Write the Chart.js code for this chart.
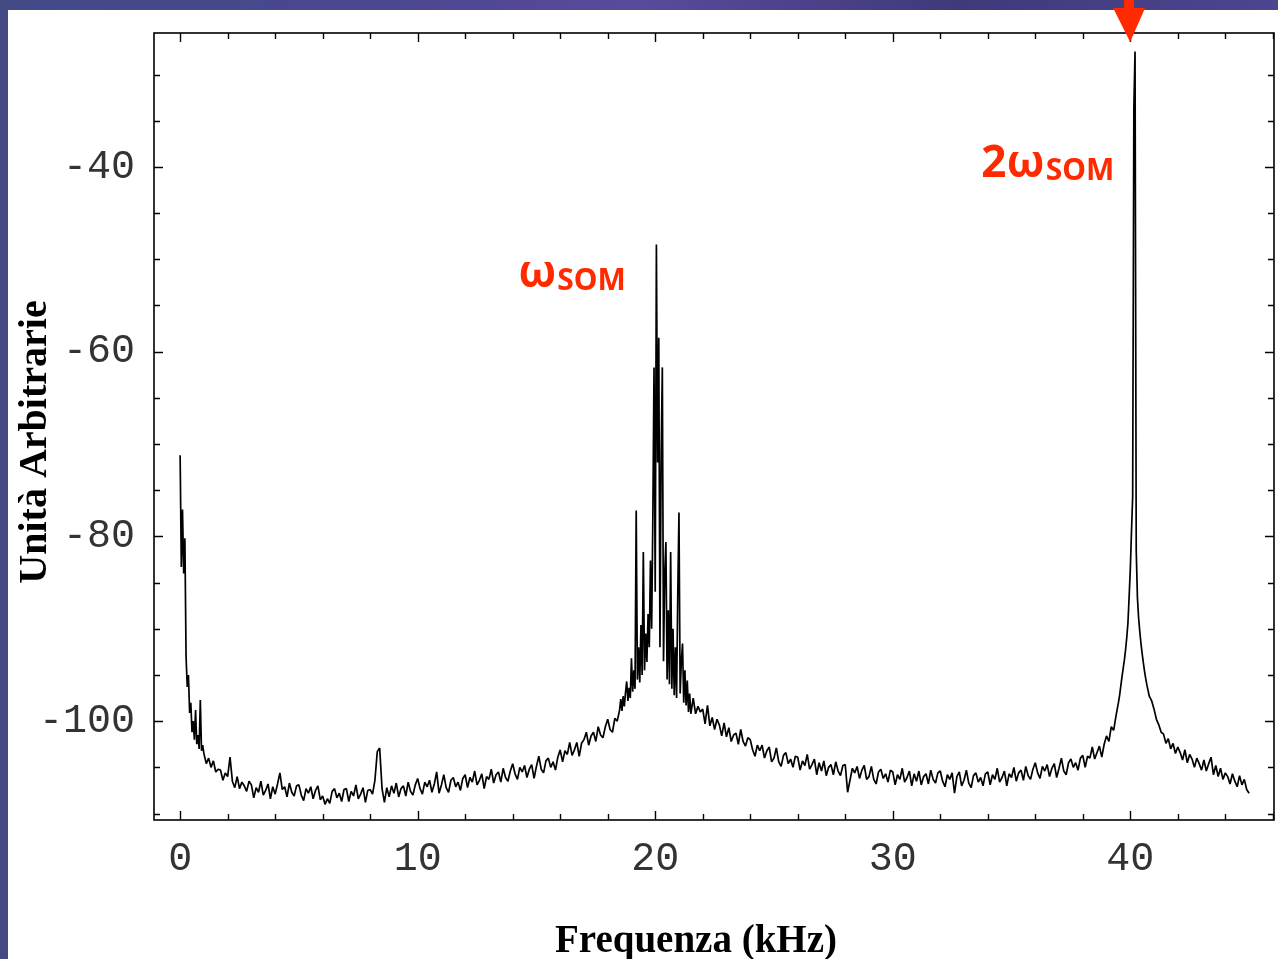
<!DOCTYPE html>
<html lang="it">
<head>
<meta charset="UTF-8">
<title>Spettro - Frequenza (kHz)</title>
<script src="https://cdn.jsdelivr.net/npm/chart.js"></script>
<style>
  html, body { margin: 0; padding: 0; background: #4a4384; overflow: hidden; }
  #wrap { position: relative; width: 1278px; height: 959px; }
</style>
</head>
<body>
<div id="wrap"><canvas id="spectrumChart" width="1278" height="959"></canvas></div>
<script>
// Spectrum levels (arbitrary units, dB-like), one array per frequency band.
// Each band is sampled on a regular grid: see bandGrid below.

// 0.00 - 0.95 kHz, step 0.05
const dcBand = [
  -71.2, -83.3, -77.1, -84.0, -80.2, -93.0, -96.3, -95.0, -99.1, -98.0,
  -101.2, -100.0, -102.0, -98.8, -102.5, -101.5, -103.0, -97.7, -103.2, -102.6
];

// 1.0 - 18.4 kHz, step 0.1
const lowBand = [
  -103.5, -104.6, -104.0, -105.0, -104.3, -105.5, -105.2, -105.3, -106.4, -105.6,
  -106.0, -103.9, -106.5, -107.2, -106.0, -107.3, -106.6, -107.0, -107.6, -106.5,
  -106.9, -108.3, -107.2, -107.7, -106.5, -108.0, -107.5, -106.8, -108.4, -107.1,
  -107.9, -106.8, -105.6, -107.4, -107.1, -108.2, -106.7, -107.7, -108.1, -107.0,
  -106.9, -108.0, -108.6, -107.3, -107.8, -107.1, -108.4, -107.5, -107.0, -108.5,
  -108.1, -109.0, -108.4, -108.9, -107.6, -107.3, -108.3, -107.8, -108.7, -107.4,
  -107.3, -108.7, -107.6, -108.1, -106.9, -108.4, -107.9, -107.2, -108.8, -107.5,
  -107.4, -107.9, -106.4, -103.3, -102.9, -107.3, -108.8, -107.2, -108.2, -107.0,
  -107.8, -106.7, -108.2, -107.3, -107.0, -108.1, -106.6, -107.6, -108.0, -106.9,
  -106.2, -107.3, -107.9, -106.6, -107.1, -106.4, -107.7, -106.8, -105.5, -107.8,
  -106.9, -105.8, -107.2, -107.7, -106.4, -106.1, -107.1, -106.6, -107.5, -106.2,
  -105.8, -107.2, -106.1, -106.6, -105.4, -106.9, -106.4, -105.7, -107.3, -106.0,
  -106.3, -105.2, -106.7, -105.8, -105.5, -106.6, -105.1, -106.1, -106.5, -105.4,
  -104.6, -105.7, -106.3, -105.0, -105.5, -104.8, -106.1, -105.2, -104.7, -106.2,
  -104.9, -103.8, -105.2, -105.6, -104.3, -104.0, -105.0, -104.4, -105.3, -103.9,
  -103.1, -104.4, -103.2, -103.6, -102.3, -103.7, -103.1, -102.3, -103.8, -102.4,
  -102.0, -101.2, -102.6, -101.6, -101.2, -102.2, -100.6, -101.5, -101.8, -100.6,
  -99.8, -100.9, -101.2, -99.7, -100.0
];

// 18.50 - 21.50 kHz, step 0.05 (fundamental cluster)
const somBand = [
  -98.8, -97.6, -98.9, -97.3, -98.4, -96.9, -95.7, -97.8, -96.4, -97.5,
  -93.2, -96.8, -94.5, -96.5, -77.2, -95.5, -92.0, -95.8, -89.6, -95.0,
  -81.7, -94.5, -90.5, -93.6, -88.4, -92.0, -82.6, -90.0, -78.0, -61.7,
  -86.0, -48.4, -72.0, -58.5, -92.0, -71.2, -61.7, -93.5, -84.0, -80.6,
  -95.5, -88.0, -96.0, -81.7, -96.5, -90.0, -97.2, -92.0, -97.5, -86.2,
  -77.4, -97.0, -93.5, -91.6, -98.0, -94.5, -98.3, -95.6, -99.0, -97.0,
  -99.2
];

// 21.6 - 39.4 kHz, step 0.1
const midBand = [
  -97.5, -99.2, -98.4, -99.0,
  -98.7, -100.3, -98.3, -100.5, -99.6, -100.9, -99.8, -100.4, -101.6, -100.2,
  -101.7, -100.7, -102.2, -101.5, -101.3, -102.5, -100.9, -102.2, -102.7, -101.8,
  -102.0, -103.1, -103.8, -102.6, -103.2, -102.6, -104.0, -103.2, -102.8, -104.4,
  -104.0, -102.9, -104.4, -104.9, -103.7, -103.4, -104.6, -104.1, -105.0, -103.8,
  -103.9, -105.3, -104.3, -104.8, -103.6, -105.2, -104.7, -104.1, -105.8, -104.5,
  -105.4, -104.3, -105.9, -105.0, -104.7, -105.8, -104.4, -105.4, -105.9, -104.8,
  -104.7, -107.7, -106.4, -105.1, -105.6, -104.9, -106.2, -105.3, -104.8, -106.3,
  -106.0, -104.9, -106.3, -106.8, -105.5, -105.2, -106.2, -105.7, -106.6, -105.3,
  -105.5, -106.9, -105.8, -106.3, -105.1, -106.6, -106.1, -105.4, -107.0, -105.7,
  -106.5, -105.4, -106.9, -106.0, -105.7, -106.8, -105.3, -106.3, -106.7, -105.6,
  -105.4, -106.5, -107.1, -105.8, -106.3, -105.6, -107.8, -106.0, -105.5, -107.0,
  -106.4, -105.3, -106.7, -107.2, -105.9, -105.6, -106.6, -106.1, -107.0, -105.7,
  -105.5, -106.9, -105.8, -106.3, -105.1, -106.6, -106.1, -105.4, -107.0, -105.7,
  -106.1, -105.0, -106.5, -105.6, -105.3, -106.4, -104.9, -105.9, -106.3, -105.2,
  -104.5, -105.6, -106.2, -104.9, -105.4, -104.7, -106.0, -105.1, -104.6, -106.1,
  -105.1, -104.0, -105.4, -105.8, -104.5, -104.1, -105.0, -104.5, -105.3, -104.0,
  -103.7, -105.0, -103.8, -104.0, -102.8, -104.1, -103.4, -102.7, -103.9, -102.5,
  -101.6, -102.2, -100.6, -101.0, -99.4
];

// 39.50 - 40.80 kHz, step 0.05 (second harmonic)
const harmonicBand = [
  -98.0, -97.2, -96.2, -95.2, -94.3, -93.4, -92.3, -91.0, -89.4, -86.6,
  -83.6, -79.5, -75.7, -33.6, -27.5, -81.5, -86.6, -88.8, -90.3, -91.6,
  -92.7, -93.7, -94.6, -95.4, -96.1, -96.7, -97.3
];

// 40.9 - 45.0 kHz, step 0.1
const tailBand = [
  -97.8, -98.7, -99.8, -100.4, -101.2, -101.4, -102.4, -101.9, -103.0, -102.4,
  -103.5, -102.8, -103.4, -104.2, -103.1, -104.5, -103.6, -104.1, -105.0, -104.0,
  -104.6, -105.3, -104.2, -105.4, -104.6, -103.9, -105.8, -104.8, -106.0, -105.1,
  -106.3, -105.6, -106.0, -106.8, -105.7, -106.5, -107.1, -105.9, -106.9, -106.3,
  -107.4, -107.8
];

// start frequency and step (kHz) of each band
const bandGrid = [
  [0.0, 0.05, dcBand],
  [1.0, 0.1, lowBand],
  [18.5, 0.05, somBand],
  [21.6, 0.1, midBand],
  [39.5, 0.05, harmonicBand],
  [40.9, 0.1, tailBand]
];

const freqTicks = [0, 2, 4, 6, 8, 10, 12, 14, 16, 18, 20, 22, 24, 26, 28, 30, 32, 34, 36, 38, 40, 42, 44, 46];
const freqLabels = [0, 10, 20, 30, 40];
const levelTicks = [-110, -105, -100, -95, -90, -85, -80, -75, -70, -65, -60, -55, -50, -45, -40, -35, -30];
const levelLabels = [-100, -80, -60, -40];

const points = [];
bandGrid.forEach(([start, step, values]) => {
  values.forEach((v, i) => points.push({ x: +(start + i * step).toFixed(3), y: v }));
});

const RED = '#ff2a00';

const framePlugin = {
  id: 'frame',
  beforeDraw(chart) {
    const c = chart.ctx;
    c.save();
    const g = c.createLinearGradient(0, 0, chart.width, 0);
    g.addColorStop(0, '#434a86');
    g.addColorStop(0.3, '#4b4790');
    g.addColorStop(0.5, '#5a4a9c');
    g.addColorStop(0.75, '#3f3a7a');
    g.addColorStop(1, '#4d4590');
    c.fillStyle = g;
    c.fillRect(0, 0, chart.width, chart.height);
    c.fillStyle = '#ffffff';
    c.fillRect(8, 10, chart.width - 8, chart.height - 10);
    c.restore();
  },
  afterDraw(chart) {
    const c = chart.ctx;
    const a = chart.chartArea;
    const x = chart.scales.x;
    const y = chart.scales.y;
    c.save();

    // frame
    c.strokeStyle = '#000';
    c.lineWidth = 1.6;
    c.strokeRect(a.left, a.top, a.right - a.left, a.bottom - a.top);

    // inward ticks on all four sides
    c.lineWidth = 1.4;
    c.beginPath();
    x.ticks.forEach(t => {
      const px = Math.round(x.getPixelForValue(t.value)) + 0.5;
      const len = freqLabels.includes(t.value) ? 9 : 6;
      c.moveTo(px, a.bottom); c.lineTo(px, a.bottom - len);
      c.moveTo(px, a.top); c.lineTo(px, a.top + len);
    });
    y.ticks.forEach(t => {
      const py = Math.round(y.getPixelForValue(t.value)) + 0.5;
      const len = levelLabels.includes(t.value) ? 9 : 6;
      c.moveTo(a.left, py); c.lineTo(a.left + len, py);
      c.moveTo(a.right, py); c.lineTo(a.right - len, py);
    });
    c.stroke();

    // axis titles
    c.fillStyle = '#000';
    c.textAlign = 'center';
    c.textBaseline = 'alphabetic';
    c.font = 'bold 39px "Liberation Serif", serif';
    c.fillText('Frequenza (kHz)', 696, 952);
    c.save();
    c.translate(46, 442);
    c.rotate(-Math.PI / 2);
    c.font = 'bold 40px "Liberation Serif", serif';
    c.fillText('Unità Arbitrarie', 0, 0);
    c.restore();

    // peak annotations
    const note = (big, fx, fy) => {
      const px = x.getPixelForValue(fx);
      const py = y.getPixelForValue(fy);
      c.fillStyle = RED;
      c.textAlign = 'left';
      c.font = 'bold 44px "Noto Sans", sans-serif';
      c.fillText(big, px, py);
      const w = c.measureText(big).width;
      c.font = 'bold 30px "Noto Sans", sans-serif';
      c.fillText('SOM', px + w + 1, py + 3);
    };
    note('ω', 14.23, -53.0);
    note('2ω', 33.73, -41.1);

    // arrow pointing at the 2ω line
    const ax = x.getPixelForValue(39.95);
    const tip = a.top + 9;
    c.fillStyle = RED;
    c.fillRect(ax - 5, 0, 10, 12);
    c.beginPath();
    c.moveTo(ax - 16, 8);
    c.lineTo(ax + 16, 8);
    c.lineTo(ax + 1, tip);
    c.closePath();
    c.fill();

    c.restore();
  }
};

const tickFont = { family: '"Liberation Mono", "DejaVu Sans Mono", monospace', size: 40 };

new Chart(document.getElementById('spectrumChart').getContext('2d'), {
  type: 'line',
  data: {
    datasets: [{
      data: points,
      borderColor: '#000',
      borderWidth: 1.7,
      borderJoinStyle: 'bevel',
      pointRadius: 0,
      tension: 0,
      fill: false
    }]
  },
  options: {
    responsive: false,
    animation: false,
    devicePixelRatio: 1,
    layout: { padding: { top: 33, right: 4, left: 0, bottom: 0 } },
    plugins: { legend: { display: false }, tooltip: { enabled: false } },
    scales: {
      x: {
        type: 'linear',
        min: -1.1,
        max: 46.05,
        grid: { display: false },
        border: { display: false },
        afterBuildTicks: s => { s.ticks = freqTicks.map(v => ({ value: v })); },
        afterFit: s => { s.height = 139; s.paddingLeft = 0; s.paddingRight = 0; },
        ticks: {
          autoSkip: false,
          maxRotation: 0,
          padding: 7,
          color: '#333',
          font: tickFont,
          callback: v => freqLabels.includes(v) ? String(v) : ''
        }
      },
      y: {
        type: 'linear',
        min: -110.7,
        max: -25.5,
        grid: { display: false },
        border: { display: false },
        afterBuildTicks: s => { s.ticks = levelTicks.map(v => ({ value: v })); },
        afterFit: s => { s.width = 154; s.paddingTop = 0; s.paddingBottom = 0; },
        ticks: {
          autoSkip: false,
          padding: 11,
          color: '#333',
          font: tickFont,
          callback: v => levelLabels.includes(v) ? String(v) : ''
        }
      }
    }
  },
  plugins: [framePlugin]
});
</script>
</body>
</html>
